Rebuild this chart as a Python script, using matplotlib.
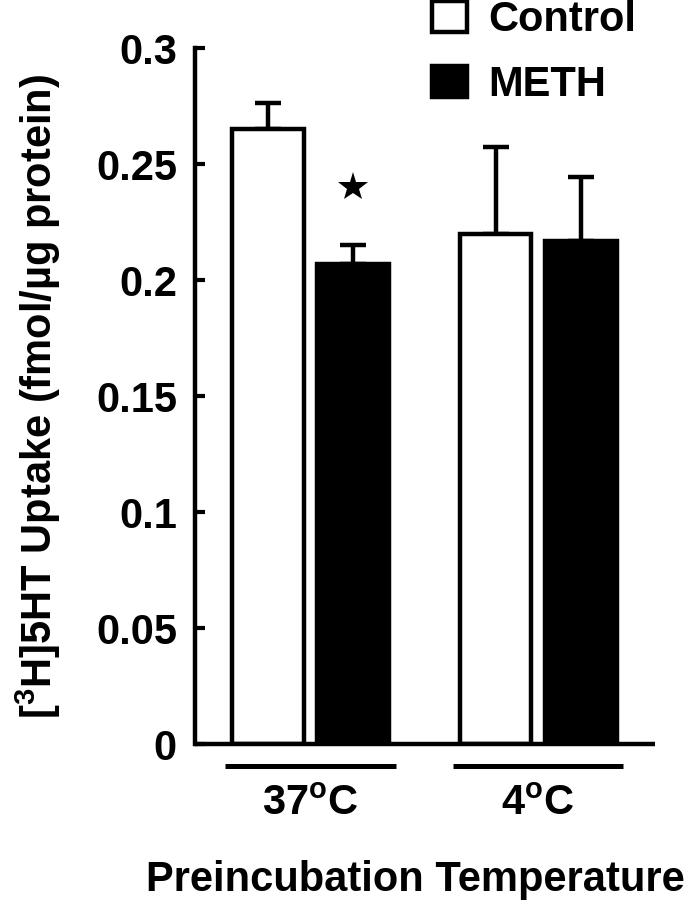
import numpy as np
import matplotlib
matplotlib.use('Agg')
import matplotlib.pyplot as plt
from matplotlib.patches import Patch

plt.rcParams['font.family'] = ['Liberation Sans', 'DejaVu Sans']
plt.rcParams['font.weight'] = 'bold'
plt.rcParams['axes.labelweight'] = 'bold'
plt.rcParams['mathtext.fontset'] = 'custom'
plt.rcParams['mathtext.rm'] = 'Liberation Sans:bold'
plt.rcParams['mathtext.it'] = 'Liberation Sans:bold'

# data
groups = ['37$^{\\rm o}$C', '4$^{\\rm o}$C']
control_mean = [0.265, 0.220]
control_sem = [0.0115, 0.0375]
meth_mean = [0.207, 0.217]
meth_sem = [0.008, 0.0275]
signif = [True, False]   # * above METH bar

fig = plt.figure(figsize=(6.91, 9.0), dpi=100)
ax = fig.add_axes([195/691, 1-744/900, (655-195)/691, (744-48)/900])

x = np.arange(len(groups))
off = 0.187
w = 0.316
lw = 3.2

ax.errorbar(x - off, control_mean, yerr=[np.zeros(2), control_sem], fmt='none',
            ecolor='black', elinewidth=lw, capsize=9.5, capthick=lw, zorder=1)
ax.errorbar(x + off, meth_mean, yerr=[np.zeros(2), meth_sem], fmt='none',
            ecolor='black', elinewidth=lw, capsize=9.5, capthick=lw, zorder=1)
ax.bar(x - off, control_mean, w, color='white', edgecolor='black', linewidth=lw, zorder=2)
ax.bar(x + off, meth_mean, w, color='black', edgecolor='black', linewidth=lw, zorder=2)

for i, s in enumerate(signif):
    if s:
        ax.plot(x[i] + off, 0.240, marker='*', color='black', ms=22, mew=0, clip_on=False)

# group underlines
for xi in x:
    ax.plot([xi - 0.374, xi + 0.374], [-0.0095, -0.0095], color='black', lw=3.6,
            clip_on=False, solid_capstyle='butt')

ax.set_xlim(-0.508, 1.514)
ax.set_ylim(0, 0.3)
ax.set_yticks([0, 0.05, 0.1, 0.15, 0.2, 0.25, 0.3])
ax.set_yticklabels(['0', '0.05', '0.1', '0.15', '0.2', '0.25', '0.3'])
ax.set_xticks(x)
ax.set_xticklabels(groups)
ax.tick_params(axis='y', direction='in', length=7, width=3, pad=13, labelsize=30)
ax.tick_params(axis='x', length=0, pad=29, labelsize=30)

for side in ['top', 'right']:
    ax.spines[side].set_visible(False)
for side in ['left', 'bottom']:
    ax.spines[side].set_linewidth(3.2)
ax.spines['bottom'].set_capstyle('butt')

ax.set_ylabel('[$^3$H]5HT Uptake (fmol/\u00b5g protein)', fontsize=30,
              fontweight='bold', labelpad=24)
ax.set_xlabel('Preincubation Temperature', fontsize=30, fontweight='bold')
ax.xaxis.set_label_coords(415/691, 1 - 880/900, transform=fig.transFigure)
ax.xaxis.label.set_va('center')

handles = [Patch(facecolor='white', edgecolor='black', linewidth=lw),
           Patch(facecolor='black', edgecolor='black', linewidth=lw)]
fig.legend(handles, ['Control', 'METH'], loc='upper left',
           bbox_to_anchor=(432/691, 1.0), frameon=False, fontsize=30,
           handlelength=0.85, handleheight=0.8, handletextpad=0.5,
           labelspacing=0.6, borderpad=0.0, borderaxespad=0)

fig.savefig('out.png', dpi=100)
